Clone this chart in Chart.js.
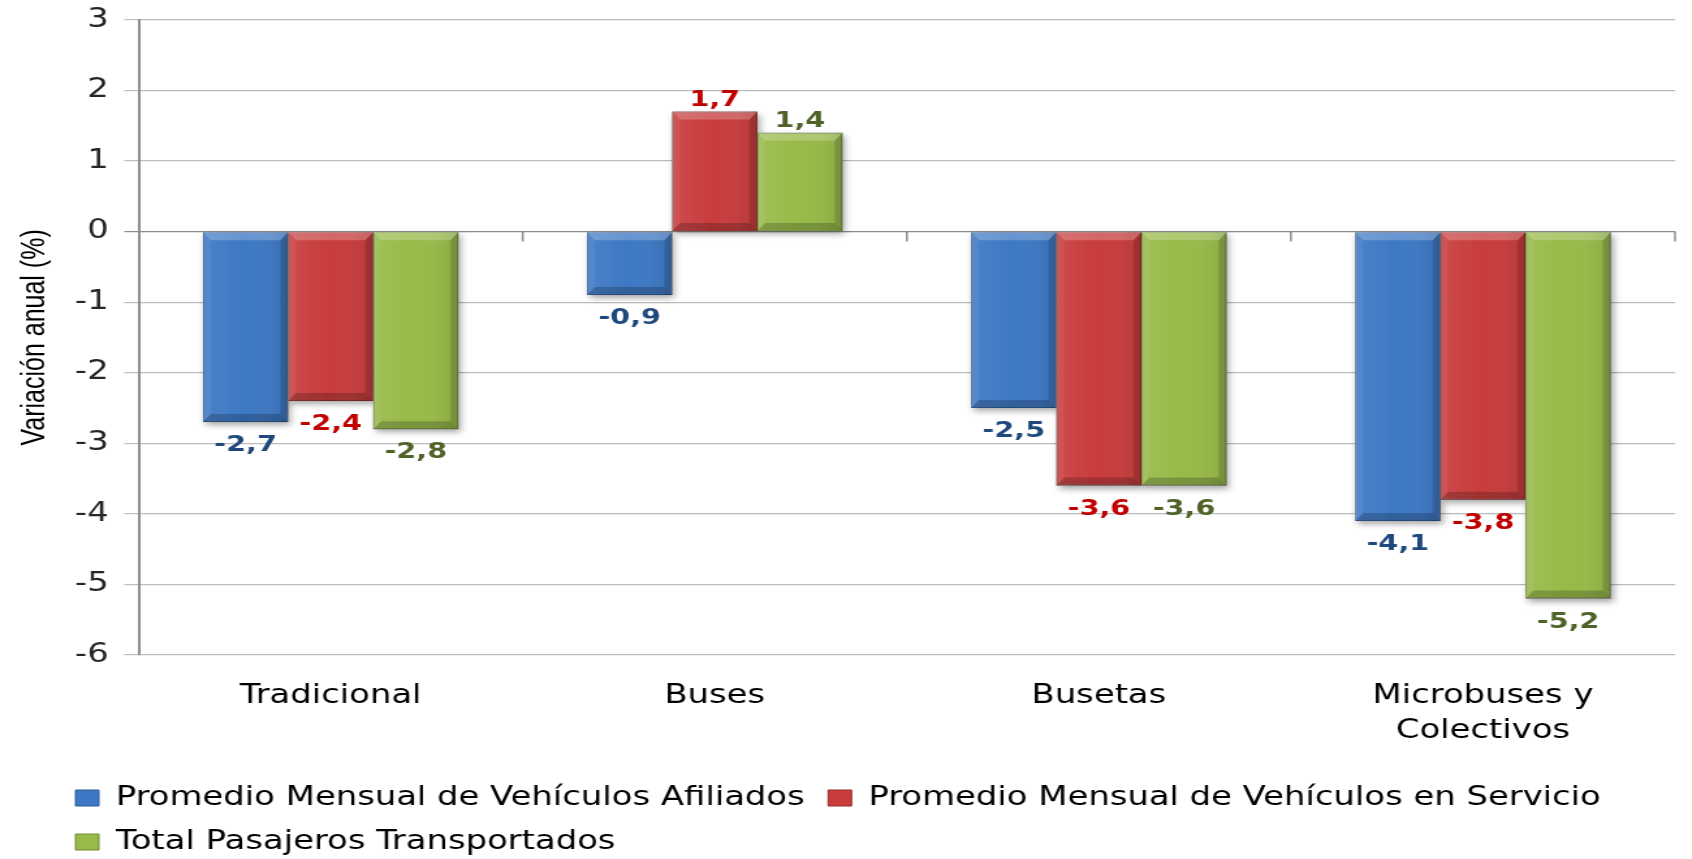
<!DOCTYPE html>
<html>
<head>
<meta charset="utf-8">
<script src="https://cdn.jsdelivr.net/npm/chart.js@4.4.1/dist/chart.umd.min.js"></script>
<style>
  html, body { margin: 0; padding: 0; background: #fff; overflow: hidden; }
  /* the original picture is stretched sideways, so the canvas is too */
  #myChart { display: block; transform: scaleX(1.3015); transform-origin: 0 0; }
</style>
</head>
<body>
<canvas id="myChart" width="1300" height="859"></canvas>
<script>
var categories = ['Tradicional', 'Buses', 'Busetas', ['Microbuses y', 'Colectivos']];
var afiliados = [-2.7, -0.9, -2.5, -4.1];
var enServicio = [-2.4, 1.7, -3.6, -3.8];
var pasajeros = [-2.8, 1.4, -3.6, -5.2];
var yTicks = [3, 2, 1, 0, -1, -2, -3, -4, -5, -6];

var labelColors = ['#1f497d', '#c00000', '#4f6228'];

// shadow under each bar (Excel style)
var barShadow = {
  id: 'barShadow',
  beforeDatasetsDraw: function(chart) {
    var ctx = chart.ctx;
    ctx.save();
    chart.data.datasets.forEach(function(ds, di) {
      chart.getDatasetMeta(di).data.forEach(function(bar) {
        var p = bar.getProps(['x', 'y', 'base', 'width'], true);
        var t = Math.min(p.y, p.base), b = Math.max(p.y, p.base);
        ctx.shadowColor = 'rgba(0,0,0,0.35)';
        ctx.shadowBlur = 6;
        ctx.shadowOffsetX = 2;
        ctx.shadowOffsetY = 3;
        ctx.fillStyle = '#888';
        ctx.fillRect(p.x - p.width / 2, t, p.width, b - t);
      });
    });
    ctx.restore();

    // small tick marks on the zero line between categories
    var xs = chart.scales.x, ys = chart.scales.y;
    var y0 = ys.getPixelForValue(0);
    ctx.save();
    ctx.strokeStyle = '#8c8c8c';
    ctx.lineWidth = 1.5;
    for (var i = 0; i < categories.length; i++) {
      var bx = i < categories.length - 1
        ? (xs.getPixelForValue(i) + xs.getPixelForValue(i + 1)) / 2
        : chart.chartArea.right;
      ctx.beginPath();
      ctx.moveTo(bx, y0);
      ctx.lineTo(bx, y0 + 10);
      ctx.stroke();
    }
    ctx.restore();
  }
};

// bevel look + value labels
var barDecor = {
  id: 'barDecor',
  afterDatasetsDraw: function(chart) {
    var ctx = chart.ctx;
    chart.data.datasets.forEach(function(ds, di) {
      chart.getDatasetMeta(di).data.forEach(function(bar, i) {
        var p = bar.getProps(['x', 'y', 'base', 'width'], true);
        var l = p.x - p.width / 2, r = p.x + p.width / 2;
        var t = Math.min(p.y, p.base), b = Math.max(p.y, p.base);
        var bw = 6, bh = 8;
        ctx.save();
        var g = ctx.createLinearGradient(l, 0, r, 0);
        g.addColorStop(0, 'rgba(255,255,255,0.08)');
        g.addColorStop(0.5, 'rgba(255,255,255,0)');
        g.addColorStop(1, 'rgba(0,0,0,0.10)');
        ctx.fillStyle = g;
        ctx.fillRect(l, t, r - l, b - t);
        // top bevel
        ctx.fillStyle = 'rgba(255,255,255,0.22)';
        ctx.beginPath();
        ctx.moveTo(l, t); ctx.lineTo(r, t); ctx.lineTo(r - bw, t + bh); ctx.lineTo(l + bw, t + bh);
        ctx.closePath(); ctx.fill();
        // left bevel
        ctx.fillStyle = 'rgba(255,255,255,0.06)';
        ctx.beginPath();
        ctx.moveTo(l, t); ctx.lineTo(l + bw, t + bh); ctx.lineTo(l + bw, b - bh); ctx.lineTo(l, b);
        ctx.closePath(); ctx.fill();
        // right bevel
        ctx.fillStyle = 'rgba(0,0,0,0.14)';
        ctx.beginPath();
        ctx.moveTo(r, t); ctx.lineTo(r - bw, t + bh); ctx.lineTo(r - bw, b - bh); ctx.lineTo(r, b);
        ctx.closePath(); ctx.fill();
        // bottom bevel
        ctx.fillStyle = 'rgba(0,0,0,0.2)';
        ctx.beginPath();
        ctx.moveTo(l, b); ctx.lineTo(r, b); ctx.lineTo(r - bw, b - bh); ctx.lineTo(l + bw, b - bh);
        ctx.closePath(); ctx.fill();

        // value label
        var v = ds.data[i];
        ctx.font = 'bold 22px "DejaVu Sans"';
        ctx.fillStyle = labelColors[di];
        ctx.textAlign = 'center';
        ctx.textBaseline = 'alphabetic';
        var ly = v < 0 ? b + 29 : t - 6;
        ctx.fillText(v.toFixed(1).replace('.', ','), p.x, ly);
        ctx.restore();
      });
    });
  }
};

var ctx = document.getElementById('myChart').getContext('2d');
new Chart(ctx, {
  type: 'bar',
  data: {
    labels: categories,
    datasets: [{
      label: 'Promedio Mensual de Vehículos Afiliados',
      backgroundColor: '#3d78c4',
      borderColor: '#2c5a96',
      borderWidth: 1,
      data: afiliados
    }, {
      label: 'Promedio Mensual de Vehículos en Servicio',
      backgroundColor: '#c83c3c',
      borderColor: '#962c2c',
      borderWidth: 1,
      data: enServicio
    }, {
      label: 'Total Pasajeros Transportados',
      backgroundColor: '#97ba48',
      borderColor: '#6f8c34',
      borderWidth: 1,
      data: pasajeros
    }]
  },
  options: {
    responsive: false,
    animation: false,
    devicePixelRatio: 1,
    categoryPercentage: 0.665,
    barPercentage: 1,
    layout: { padding: { left: 40, right: 13, top: 9, bottom: -6 } },
    plugins: {
      tooltip: { enabled: false },
      legend: {
        position: 'bottom',
        align: 'start',
        labels: {
          boxWidth: 18,
          boxHeight: 16,
          padding: 18,
          color: '#000',
          font: { family: 'DejaVu Sans', size: 26 }
        }
      }
    },
    scales: {
      x: {
        grid: { display: false, drawTicks: false },
        border: { display: false },
        ticks: {
          padding: 24,
          color: '#000',
          maxRotation: 0,
          autoSkip: false,
          font: { family: 'DejaVu Sans', size: 26, lineHeight: 1.35 }
        },
        afterFit: function(s) { s.height = 112; }
      },
      y: {
        min: yTicks[yTicks.length - 1],
        max: yTicks[0],
        afterBuildTicks: function(s) { s.ticks = yTicks.map(function(v) { return { value: v }; }); },
        ticks: {
          padding: 12,
          color: '#262626',
          font: { family: 'DejaVu Sans', size: 26, lineHeight: 0.6 }
        },
        grid: {
          color: function(c) { return c.tick && c.tick.value === 0 ? '#8c8c8c' : '#bdbdbd'; },
          lineWidth: 1.2,
          tickLength: 11
        },
        border: { color: '#8c8c8c', width: 2 },
        title: {
          display: true,
          text: 'Variación anual (%)',
          color: '#000',
          font: { family: 'Liberation Sans', size: 25 },
          padding: { top: -28, bottom: 0 }
        },
        afterFit: function(s) { s.width = 66.5; }
      }
    }
  },
  plugins: [barShadow, barDecor]
});
</script>
</body>
</html>
